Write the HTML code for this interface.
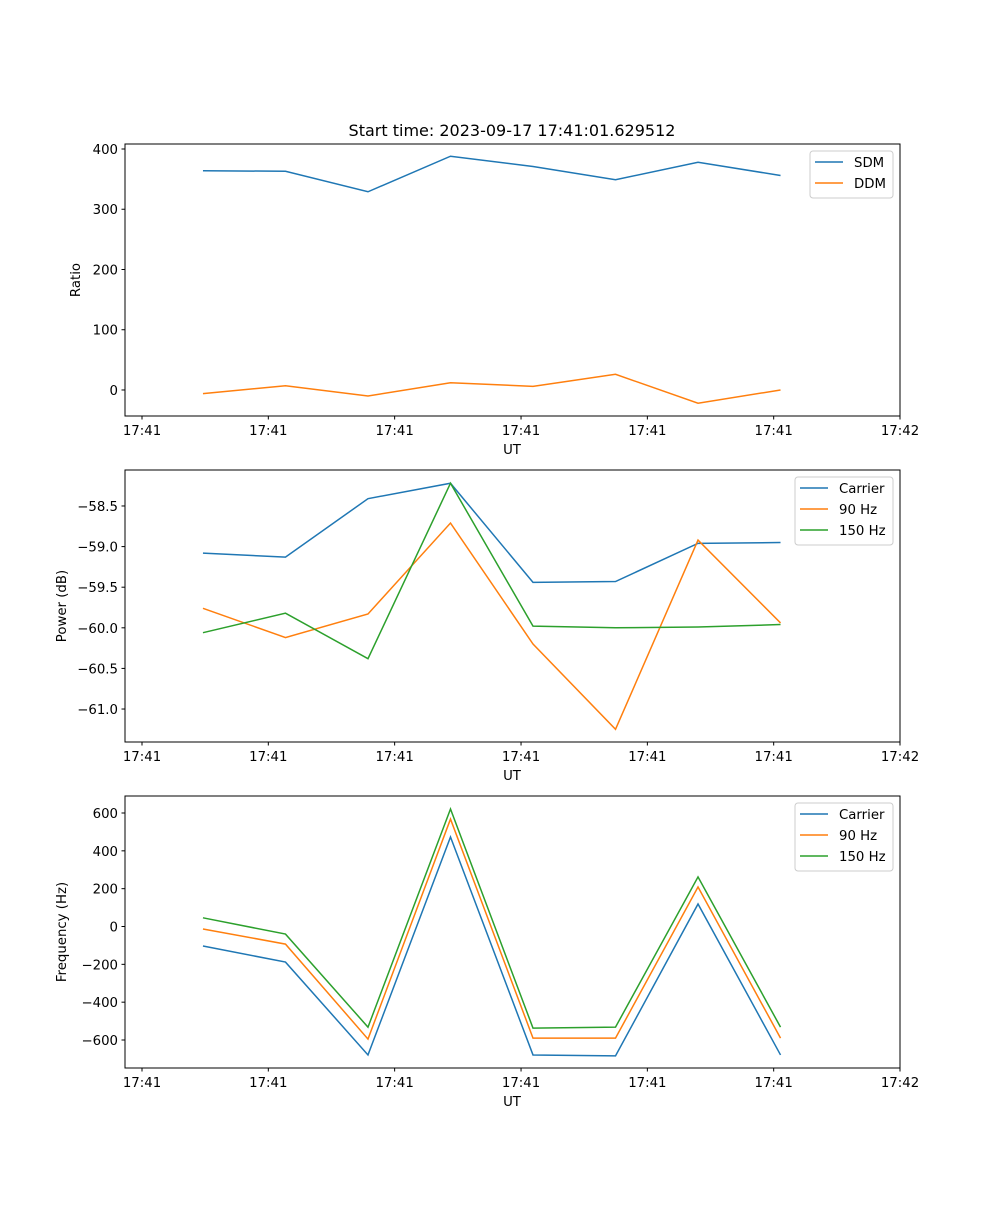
<!DOCTYPE html>
<html><head><meta charset="utf-8"><style>
body{margin:0;background:#fff}
svg text{font-family:"DejaVu Sans","Liberation Sans",sans-serif;font-size:13.3px;fill:#000}
</style></head><body>
<svg id="chart" width="1000" height="1200" viewBox="0 0 1000 1200" xmlns="http://www.w3.org/2000/svg">
<rect width="1000" height="1200" fill="#fff"/>
<text x="512" y="136" text-anchor="middle" style="font-size:16px">Start time: 2023-09-17 17:41:01.629512</text>
</svg>
<script>
const samples = [0,1,2,3,4,5,6,7];
const xTickVals = [-0.739,0.792,2.323,3.855,5.386,6.917,8.448];
const xTickLabels = ["17:41","17:41","17:41","17:41","17:41","17:41","17:42"];
const sdm = [364,363,329,388,371,349,378,356];
const ddm = [-6,7,-10,12,6,26,-22,0];
const powCarrier = [-59.08,-59.13,-58.41,-58.22,-59.44,-59.43,-58.96,-58.95];
const pow90 = [-59.76,-60.12,-59.83,-58.71,-60.2,-61.25,-58.92,-59.94];
const pow150 = [-60.06,-59.82,-60.38,-58.22,-59.98,-60.0,-59.99,-59.96];
const freqCarrier = [-103,-188,-679,473,-679,-684,119,-679];
const freq90 = [-13,-93,-595,568,-590,-590,209,-590];
const freq150 = [46,-40,-532,621,-537,-532,262,-532];
const ratioTicks = [0,100,200,300,400];
const powTicks = [-61.0,-60.5,-60.0,-59.5,-59.0,-58.5];
const freqTicks = [-600,-400,-200,0,200,400,600];

const NS="http://www.w3.org/2000/svg";
const svg=document.getElementById('chart');
const C={blue:'#1f77b4',orange:'#ff7f0e',green:'#2ca02c'};
function mk(tag,attrs,parent){const e=document.createElementNS(NS,tag);for(const k in attrs)e.setAttribute(k,attrs[k]);(parent||svg).appendChild(e);return e;}
const L=125,R=900,xmin=-0.945,xmax=8.448;
const sx=v=>L+(v-xmin)/(xmax-xmin)*(R-L);

function panel(id,top,bot,ymin,ymax,ticks,fmt,ylabel,series,legW,legX){
  const g=mk('g',{});
  
  
  const sy=v=>bot-(v-ymin)/(ymax-ymin)*(bot-top);
  series.forEach(s=>{
    const p=mk('polyline',{points:samples.map((x,i)=>sx(x)+','+sy(s.vals[i])).join(' '),fill:'none',stroke:s.color,'stroke-width':1.5},g);
    
    
  });
  const fr=mk('rect',{x:L,y:top,width:R-L,height:bot-top,fill:'none',stroke:'#000','stroke-width':1},g);
  
  
  xTickVals.forEach((v,i)=>{
    const x=sx(v);
    mk('line',{x1:x,x2:x,y1:bot,y2:bot+3.5,stroke:'#000'},g);
    const t=mk('text',{x:x,y:bot+19,'text-anchor':'middle'},g);t.textContent=xTickLabels[i];
    
    
  });
  ticks.forEach(v=>{
    const y=sy(v);
    mk('line',{x1:L-3.5,x2:L,y1:y,y2:y,stroke:'#000'},g);
    const t=mk('text',{x:L-7,y:y+5,'text-anchor':'end'},g);t.textContent=fmt(v);
    
    
  });
  const xl=mk('text',{x:512,y:bot+38,'text-anchor':'middle'},g);xl.textContent='UT';
  
  
  const ylx=id==='ratio'?80:66;
  const yl=mk('text',{x:ylx,y:(top+bot)/2,'text-anchor':'middle',transform:`rotate(-90 ${ylx} ${(top+bot)/2})`},g);yl.textContent=ylabel;
  
  
  const lg=mk('g',{},g);
  
  
  const lh=series.length*21+5;
  mk('rect',{x:legX,y:top+7,width:legW,height:lh,rx:3,fill:'#fff','fill-opacity':0.8,stroke:'#ccc'},lg);
  series.forEach((s,i)=>{
    const y=top+18+i*21;
    mk('line',{x1:legX+5,x2:legX+33,y1:y,y2:y,stroke:s.color,'stroke-width':1.5},lg);
    const t=mk('text',{x:legX+44,y:y+5},lg);t.textContent=s.name;
    
    
  });
}
panel('ratio',144,416,-43.2,408.3,ratioTicks,v=>String(v),'Ratio',
  [{key:'sdm',name:'SDM',vals:sdm,color:C.blue},{key:'ddm',name:'DDM',vals:ddm,color:C.orange}],83,810);
panel('power',470,742,-61.406,-58.057,powTicks,v=>v.toFixed(1).replace('-','\u2212'),'Power (dB)',
  [{key:'carrier',name:'Carrier',vals:powCarrier,color:C.blue},{key:'90hz',name:'90 Hz',vals:pow90,color:C.orange},{key:'150hz',name:'150 Hz',vals:pow150,color:C.green}],98,795);
panel('frequency',796,1068,-748,689.9,freqTicks,v=>String(v).replace('-','\u2212'),'Frequency (Hz)',
  [{key:'carrier',name:'Carrier',vals:freqCarrier,color:C.blue},{key:'90hz',name:'90 Hz',vals:freq90,color:C.orange},{key:'150hz',name:'150 Hz',vals:freq150,color:C.green}],98,795);
</script>
</body></html>
